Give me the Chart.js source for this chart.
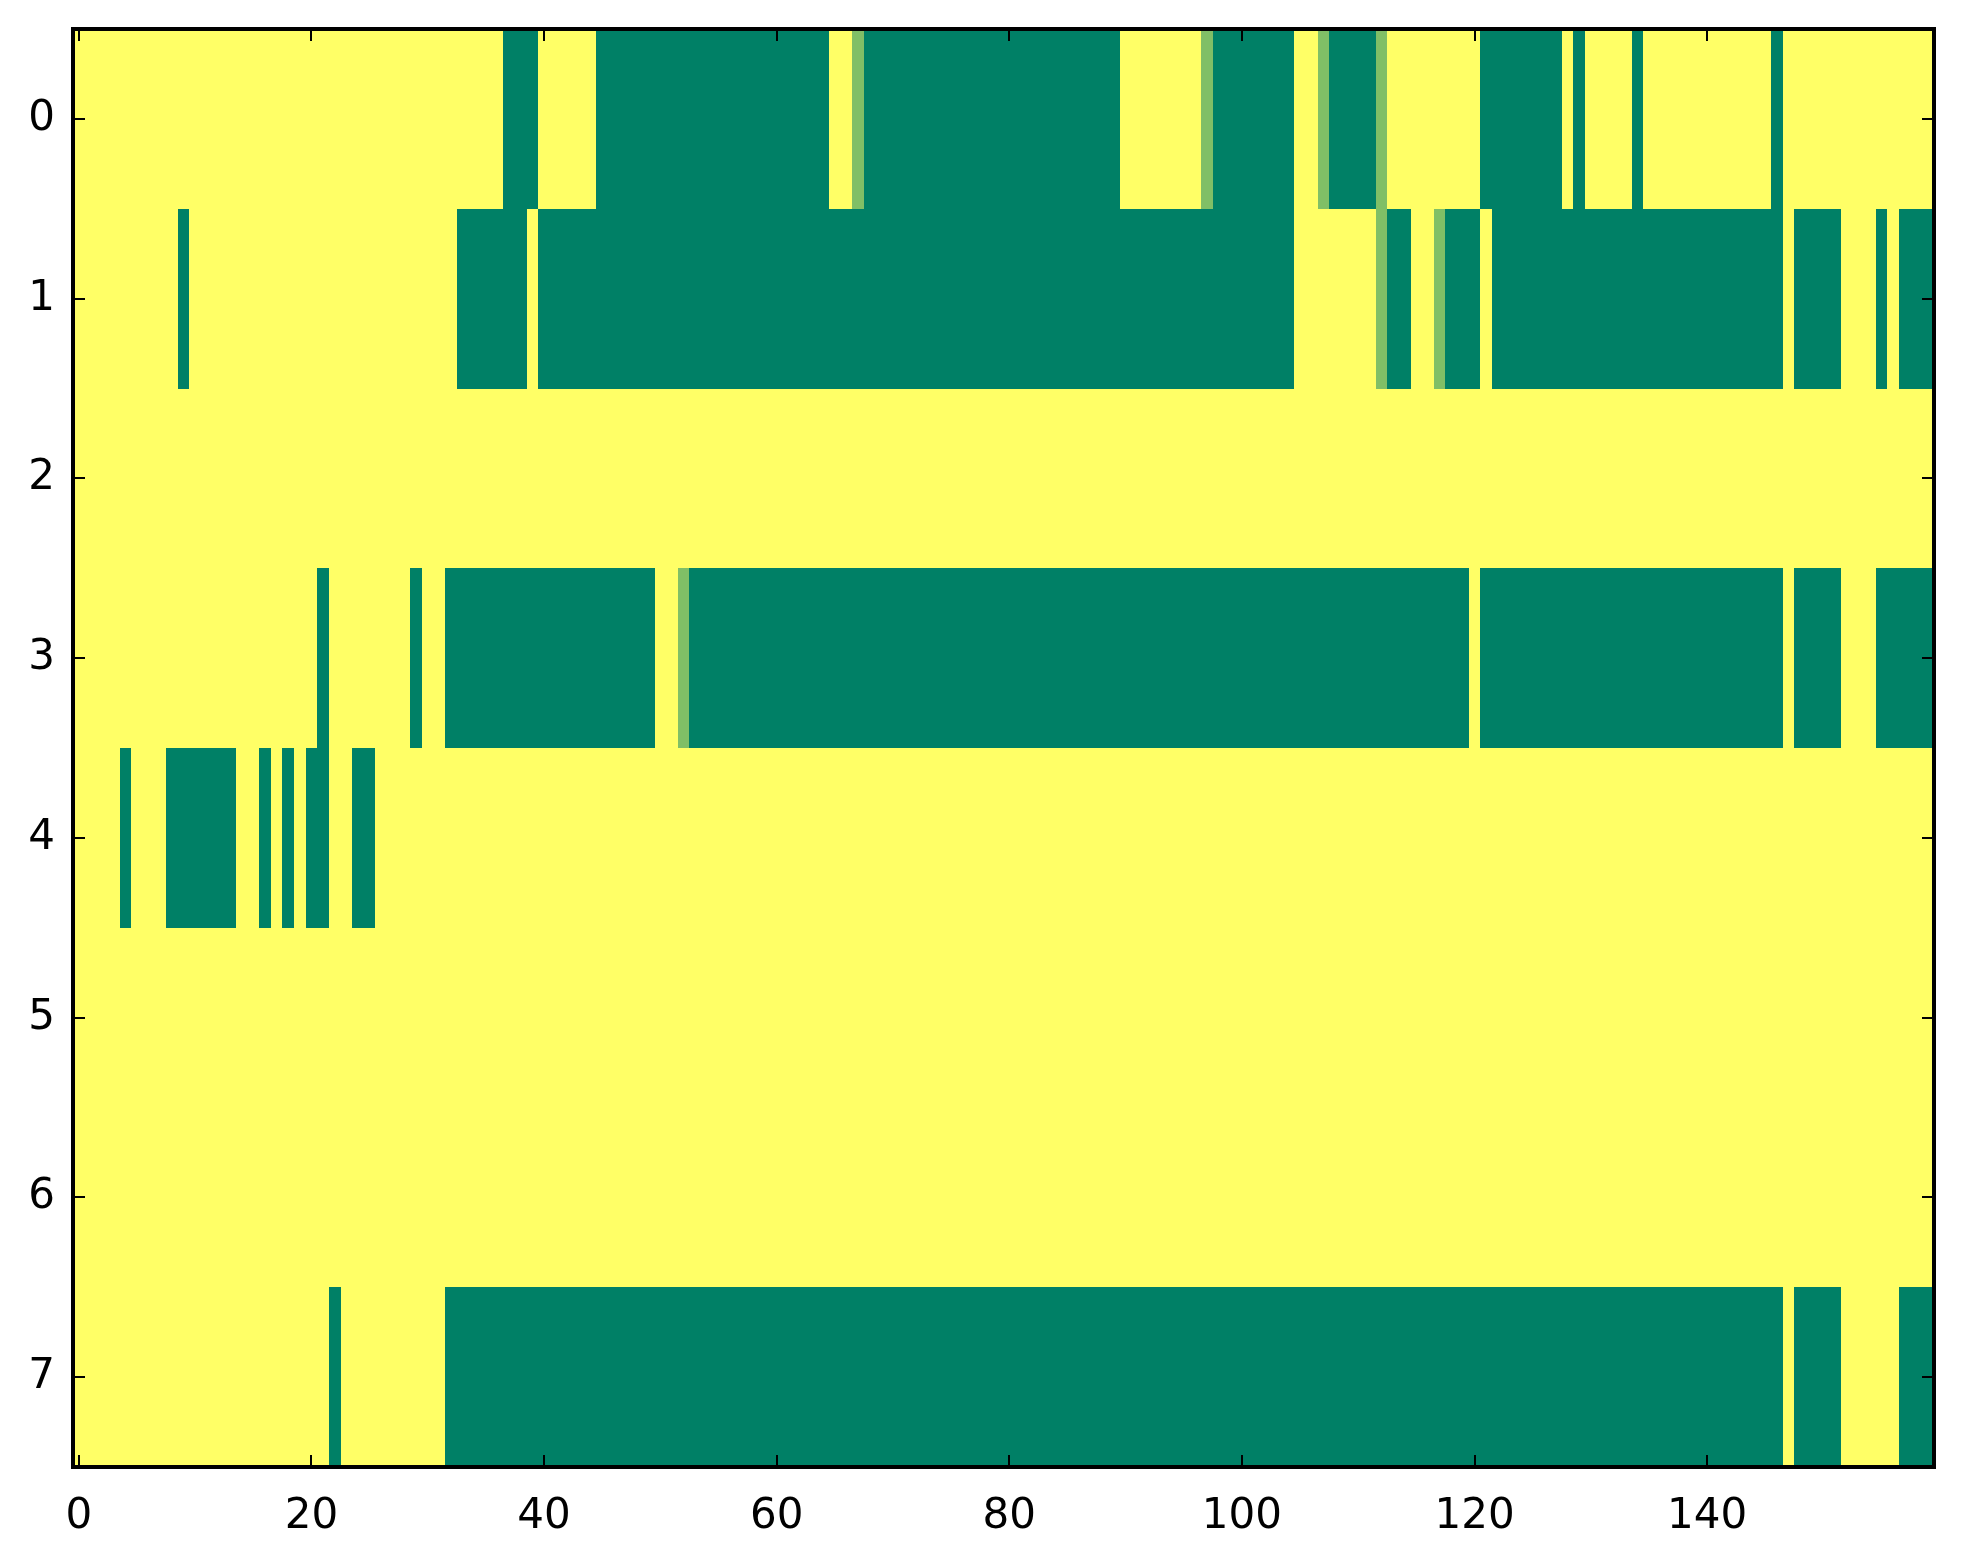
<!DOCTYPE html>
<html>
<head>
<meta charset="utf-8">
<script src="https://cdn.jsdelivr.net/npm/chart.js@4/dist/chart.umd.min.js"></script>
<style>
html,body{margin:0;padding:0;background:#fff;overflow:hidden}
#wrap{width:1963px;height:1564px}
</style>
</head>
<body>
<div id="wrap"><canvas id="c" width="1963" height="1564"></canvas></div>
<script>
// Row runs: [value, count]; value 1 = yellow, 0 = green, 0.5 = mid
const row0 = [[1,37],[0,3],[1,5],[0,20],[1,2],[0.5,1],[0,22],[1,7],[0.5,1],[0,7],[1,2],[0.5,1],[0,4],[0.5,1],[1,8],[0,7],[1,1],[0,1],[1,4],[0,1],[1,11],[0,1],[1,13]];
const row1 = [[1,9],[0,1],[1,23],[0,6],[1,1],[0,65],[1,7],[0.5,1],[0,2],[1,2],[0.5,1],[0,3],[1,1],[0,25],[1,1],[0,4],[1,3],[0,1],[1,1],[0,3]];
const row2 = [[1,160]];
const row3 = [[1,21],[0,1],[1,7],[0,1],[1,2],[0,18],[1,2],[0.5,1],[0,67],[1,1],[0,26],[1,1],[0,4],[1,3],[0,5]];
const row4 = [[1,4],[0,1],[1,3],[0,6],[1,2],[0,1],[1,1],[0,1],[1,1],[0,2],[1,2],[0,2],[1,134]];
const row5 = [[1,160]];
const row6 = [[1,160]];
const row7 = [[1,22],[0,1],[1,9],[0,115],[1,1],[0,4],[1,5],[0,3]];
const rows = [row0,row1,row2,row3,row4,row5,row6,row7];
const xTicks = [0,20,40,60,80,100,120,140];
const yTicks = [0,1,2,3,4,5,6,7];

// summer colormap
function summer(v){
  const r = Math.round(255*v), g = Math.round(255*(0.5+0.5*v)), b = Math.round(255*0.4);
  return `rgb(${r},${g},${b})`;
}

// build cell-run objects
const cells = [];
rows.forEach((runs, r) => {
  let start = 0;
  runs.forEach(([v, n]) => { cells.push({x: start, y: r, w: n, v: v}); start += n; });
});

const heatPlugin = {
  id: 'heat',
  beforeDatasetsDraw(chart){
    const ctx = chart.ctx, xs = chart.scales.x, ys = chart.scales.y;
    ctx.save();
    chart.data.datasets[0].data.forEach(c => {
      const x1 = Math.round(xs.getPixelForValue(c.x - 0.5));
      const x2 = Math.round(xs.getPixelForValue(c.x + c.w - 0.5));
      const y1 = Math.round(ys.getPixelForValue(c.y - 0.5));
      const y2 = Math.round(ys.getPixelForValue(c.y + 0.5));
      ctx.fillStyle = summer(c.v);
      ctx.fillRect(Math.min(x1,x2), Math.min(y1,y2), Math.abs(x2-x1), Math.abs(y2-y1));
    });
    ctx.restore();
  },
  afterDraw(chart){
    const ctx = chart.ctx, a = chart.chartArea, xs = chart.scales.x, ys = chart.scales.y;
    ctx.save();
    ctx.strokeStyle = '#000';
    ctx.lineWidth = 2;
    const tl = 12;
    ctx.beginPath();
    xTicks.forEach(t => {
      const px = Math.round(xs.getPixelForValue(t));
      ctx.moveTo(px, a.bottom); ctx.lineTo(px, a.bottom - tl);
      ctx.moveTo(px, a.top); ctx.lineTo(px, a.top + tl);
    });
    yTicks.forEach(t => {
      const py = Math.round(ys.getPixelForValue(t));
      ctx.moveTo(a.left, py); ctx.lineTo(a.left + tl, py);
      ctx.moveTo(a.right, py); ctx.lineTo(a.right - tl, py);
    });
    ctx.stroke();
    ctx.lineWidth = 4;
    ctx.strokeRect(a.left, a.top, a.right - a.left, a.bottom - a.top);
    ctx.restore();
  }
};

const font = {family: 'DejaVu Sans', size: 42};

new Chart(document.getElementById('c'), {
  type: 'scatter',
  data: { datasets: [{ data: cells, pointRadius: 0, pointHoverRadius: 0 }] },
  options: {
    responsive: false,
    animation: false,
    devicePixelRatio: 1,
    events: [],
    layout: { padding: { left: 0, top: 29, right: 29, bottom: 0 } },
    plugins: { legend: {display: false}, tooltip: {enabled: false} },
    scales: {
      x: {
        type: 'linear', min: -0.5, max: 159.5,
        grid: { display: false, drawTicks: false },
        border: { display: false },
        ticks: { color: '#000', font: font, padding: 25, maxRotation: 0, autoSkip: false },
        afterBuildTicks(s){ s.ticks = xTicks.map(v => ({value: v})); },
        afterFit(s){ s.height = 97; s.paddingLeft = 0; s.paddingRight = 0; s.paddingTop = 0; s.paddingBottom = 0; }
      },
      y: {
        type: 'linear', min: -0.5, max: 7.5, reverse: true,
        grid: { display: false, drawTicks: false },
        border: { display: false },
        ticks: { color: '#000', font: font, padding: 18, autoSkip: false },
        afterBuildTicks(s){ s.ticks = yTicks.map(v => ({value: v})); },
        afterFit(s){ s.width = 73; s.paddingLeft = 0; s.paddingRight = 0; s.paddingTop = 0; s.paddingBottom = 0; }
      }
    }
  },
  plugins: [heatPlugin]
});
</script>
</body>
</html>
